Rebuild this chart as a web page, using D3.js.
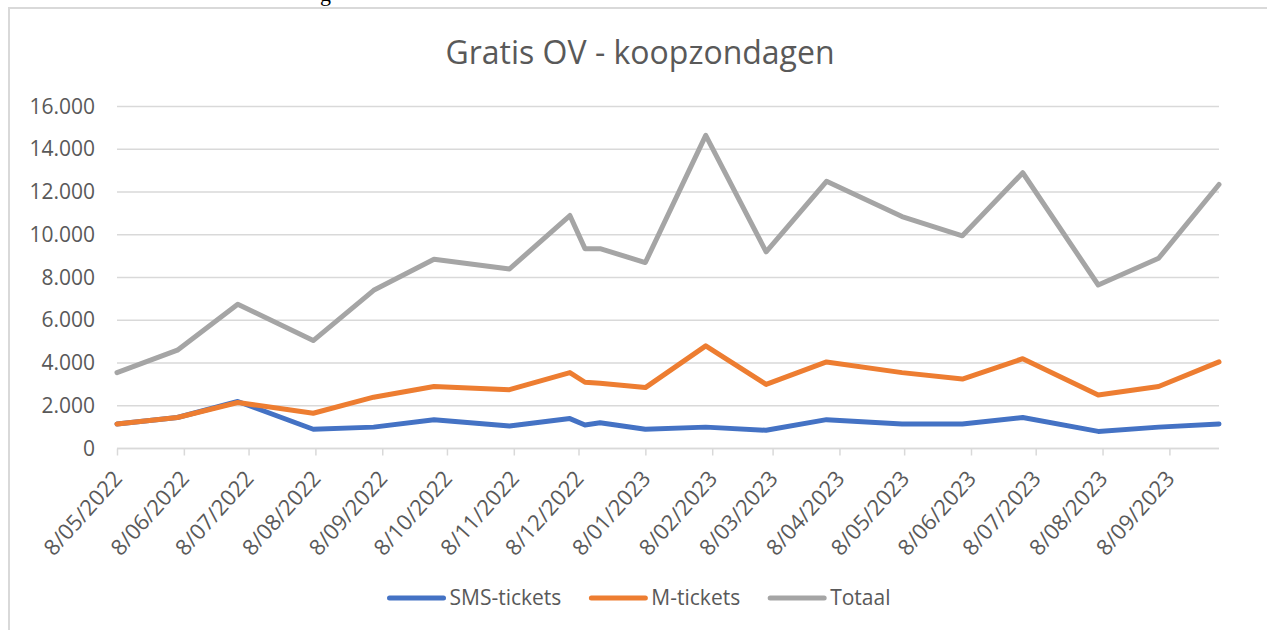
<!DOCTYPE html>
<html>
<head>
<meta charset="utf-8">
<script src="https://cdn.jsdelivr.net/npm/d3@7"></script>
<style>
  body { margin: 0; background: #fff; }
  svg { display: block; font-family: "Open Sans", sans-serif; }
</style>
</head>
<body>
<div id="chart"></div>
<script>
// data (koopzondagen)
const dates = ["2022-05-08", "2022-06-05", "2022-07-03", "2022-08-07", "2022-09-04", "2022-10-02",
  "2022-11-06", "2022-12-04", "2022-12-11", "2022-12-18", "2023-01-08", "2023-02-05", "2023-03-05",
  "2023-04-02", "2023-05-07", "2023-06-04", "2023-07-02", "2023-08-06", "2023-09-03", "2023-10-01"];
const smsTickets = [1150, 1450, 2200, 900, 1000, 1350, 1050, 1400, 1100, 1200, 900, 1000, 850, 1350, 1150, 1150, 1450, 800, 1000, 1150];
const mTickets = [1150, 1450, 2150, 1650, 2400, 2900, 2750, 3550, 3100, 3050, 2850, 4800, 3000, 4050, 3550, 3250, 4200, 2500, 2900, 4050];
const totaal = [3550, 4600, 6750, 5050, 7400, 8850, 8400, 10900, 9350, 9350, 8700, 14650, 9200, 12500, 10850, 9950, 12900, 7650, 8900, 12350];
const yTicks = [0, 2000, 4000, 6000, 8000, 10000, 12000, 14000, 16000];
const xTicks = ["2022-05-08", "2022-06-08", "2022-07-08", "2022-08-08", "2022-09-08", "2022-10-08",
  "2022-11-08", "2022-12-08", "2023-01-08", "2023-02-08", "2023-03-08", "2023-04-08", "2023-05-08",
  "2023-06-08", "2023-07-08", "2023-08-08", "2023-09-08"];
const seriesNames = ["SMS-tickets", "M-tickets", "Totaal"];
const colors = ["#4472C4", "#ED7D31", "#A5A5A5"];

const W = 1267, H = 630;
const plot = { left: 117, right: 1219, top: 106.5, bottom: 448.5 };
const parse = d3.timeParse("%Y-%m-%d");
const nl = d3.formatLocale({ decimal: ",", thousands: ".", grouping: [3], currency: ["€", ""] });

const svg = d3.select("#chart").append("svg")
    .attr("width", W)
    .attr("height", H);

svg.append("rect").attr("width", W).attr("height", H).attr("fill", "#fff");

// chart frame + stukje tekst van het document erboven
svg.append("rect")
    .attr("x", 9).attr("y", 8)
    .attr("width", W + 20).attr("height", H + 20)
    .attr("fill", "none")
    .attr("stroke", "#d9d9d9")
    .attr("stroke-width", 2);
svg.append("text")
    .attr("x", 320).attr("y", 1)
    .style("font-family", "'Liberation Serif', serif")
    .style("font-size", "22px")
    .attr("fill", "#000")
    .text("g");

const x = d3.scaleTime()
    .domain(d3.extent(dates, parse))
    .range([plot.left, plot.right]);

const y = d3.scaleLinear()
    .domain([0, 16000])
    .range([plot.bottom, plot.top]);

// gridlines
svg.append("g")
    .selectAll("line")
    .data(yTicks)
    .join("line")
    .attr("x1", plot.left).attr("x2", plot.right)
    .attr("y1", d => y(d)).attr("y2", d => y(d))
    .attr("stroke", "#d9d9d9")
    .attr("stroke-width", 1.5);

// y axis labels
const yAxis = d3.axisLeft(y).tickValues(yTicks).tickFormat(nl.format(",")).tickSize(0).tickPadding(22);
const yAxisGroup = svg.append("g")
    .attr("transform", `translate(${plot.left}, 0)`)
    .call(yAxis);
yAxisGroup.select(".domain").remove();
yAxisGroup.selectAll("text")
    .style("font-family", "'Open Sans', sans-serif")
    .style("font-size", "21px")
    .attr("fill", "#595959");

// x axis
const xAxis = d3.axisBottom(x)
    .tickValues(xTicks.map(parse))
    .tickFormat(d3.timeFormat("%-d/%m/%Y"))
    .tickSize(7)
    .tickSizeOuter(0);
const xAxisGroup = svg.append("g")
    .attr("transform", `translate(0, ${plot.bottom})`)
    .call(xAxis);
xAxisGroup.select(".domain")
    .attr("d", `M${plot.left},0H${plot.right}`)
    .attr("stroke", "#d9d9d9")
    .attr("stroke-width", 1.5);
xAxisGroup.selectAll(".tick line")
    .attr("stroke", "#d9d9d9")
    .attr("stroke-width", 1.5);
xAxisGroup.selectAll(".tick text")
    .style("font-family", "'Open Sans', sans-serif")
    .style("font-size", "22px")
    .attr("fill", "#595959")
    .attr("text-anchor", "end")
    .attr("dy", null)
    .attr("y", 0)
    .attr("transform", "translate(6, 31) rotate(-48)");

// lines
const allSeries = [smsTickets, mTickets, totaal];
const line = d3.line()
    .x((d, i) => x(parse(dates[i])))
    .y(d => y(d));

svg.append("g")
    .selectAll("path")
    .data(allSeries)
    .join("path")
    .attr("d", d => line(d))
    .attr("fill", "none")
    .attr("stroke", (d, i) => colors[i])
    .attr("stroke-width", 5)
    .attr("stroke-linejoin", "round")
    .attr("stroke-linecap", "round");

// title
svg.append("text")
    .attr("x", 640)
    .attr("y", 64)
    .attr("text-anchor", "middle")
    .style("font-family", "'Open Sans', sans-serif")
    .style("font-size", "32px")
    .attr("fill", "#595959")
    .text("Gratis OV - koopzondagen");

// legend
const legend = svg.append("g").attr("transform", "translate(0, 598)");
const items = legend.selectAll("g")
    .data(seriesNames)
    .join("g");
items.append("line")
    .attr("x1", 0).attr("x2", 54)
    .attr("stroke", (d, i) => colors[i])
    .attr("stroke-width", 5)
    .attr("stroke-linecap", "round");
items.append("text")
    .attr("x", 60)
    .attr("dy", "0.35em")
    .style("font-family", "'Open Sans', sans-serif")
    .style("font-size", "21px")
    .attr("fill", "#595959")
    .text(d => d);

let widths = [];
items.each(function () { widths.push(this.getBBox().width); });
const gap = 30;
const total = d3.sum(widths) + gap * (widths.length - 1);
let cur = 640 - total / 2;
items.attr("transform", (d, i) => {
    const t = `translate(${cur}, 0)`;
    cur += widths[i] + gap;
    return t;
});
</script>
</body>
</html>
